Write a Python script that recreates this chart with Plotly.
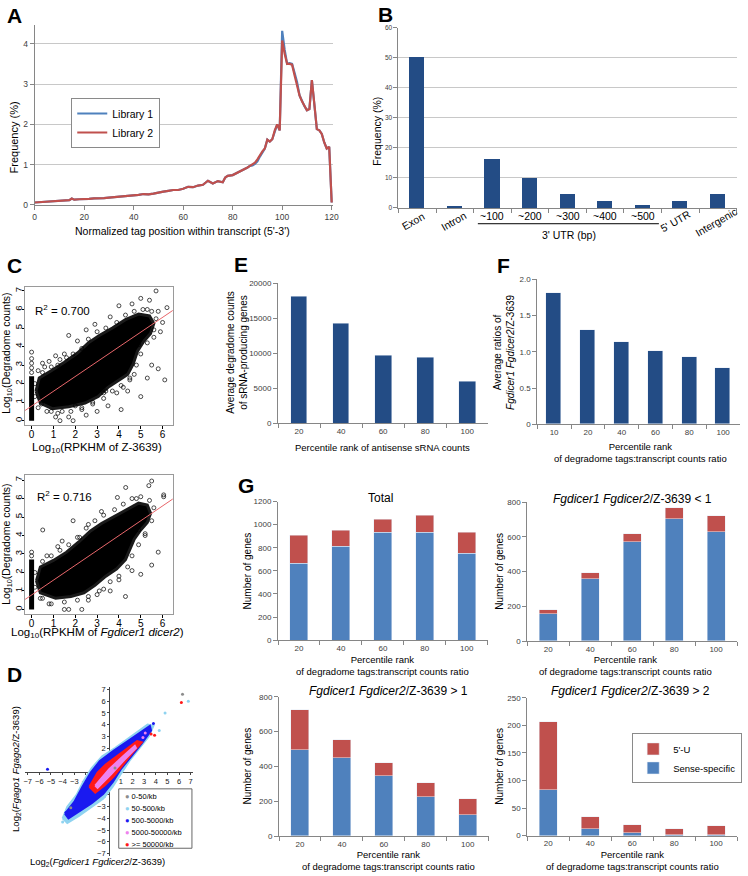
import plotly.graph_objects as go

W, H = 748, 876
FONT = "Arial, Liberation Sans, sans-serif"

# ---------------- data ----------------
# A: tag position profile
a_pos = [0, 2, 4, 6, 8, 10, 12, 14, 15, 16, 18, 20, 22, 24, 26, 28, 30, 32, 34, 36, 38, 40,
         42, 44, 46, 48, 50, 52, 54, 56, 58, 60, 62, 64, 66, 68, 70, 72, 74, 76, 77, 78, 80, 82, 84,
         85, 86, 87, 88, 89, 90, 91, 92, 93, 94, 95, 96, 97, 98, 99, 100, 101, 102, 103, 104,
         105, 106, 107, 108, 109, 110, 111, 112, 113, 114, 115, 116, 117, 118, 119, 120]
a_lib2 = [0.06, 0.07, 0.08, 0.09, 0.10, 0.11, 0.12, 0.12, 0.16, 0.13, 0.14, 0.14, 0.15, 0.16, 0.16,
          0.17, 0.18, 0.19, 0.21, 0.22, 0.22, 0.23, 0.25, 0.27, 0.26, 0.28, 0.31, 0.33, 0.35, 0.37,
          0.37, 0.40, 0.45, 0.44, 0.48, 0.50, 0.60, 0.53, 0.59, 0.56, 0.68, 0.72, 0.74, 0.80, 0.86,
          0.88, 0.93, 0.97, 1.00, 1.05, 1.13, 1.25, 1.33, 1.40, 1.62, 1.57, 1.63, 1.85, 2.00, 1.85,
          4.08, 3.75, 3.50, 3.50, 3.48, 3.22, 3.00, 2.72, 2.57, 2.45, 2.35, 2.38, 3.10, 2.50, 1.88,
          1.85, 1.76, 1.55, 1.40, 1.44, 0.06]
a_lib1 = [0.06, 0.07, 0.08, 0.09, 0.10, 0.11, 0.12, 0.12, 0.16, 0.13, 0.14, 0.14, 0.15, 0.16, 0.16,
          0.17, 0.18, 0.19, 0.21, 0.22, 0.22, 0.23, 0.25, 0.27, 0.26, 0.28, 0.31, 0.33, 0.35, 0.37,
          0.37, 0.40, 0.45, 0.44, 0.48, 0.50, 0.60, 0.53, 0.59, 0.56, 0.68, 0.72, 0.74, 0.80, 0.86,
          0.88, 0.93, 0.97, 0.98, 1.02, 1.08, 1.20, 1.30, 1.40, 1.62, 1.57, 1.63, 1.85, 2.00, 1.85,
          4.32, 3.85, 3.50, 3.52, 3.50, 3.28, 3.05, 2.72, 2.57, 2.45, 2.35, 2.38, 3.10, 2.50, 1.88,
          1.85, 1.76, 1.55, 1.40, 1.44, 0.06]

# B: genomic location of tags
b_cats = ["Exon", "Intron", "~100", "~200", "~300", "~400", "~500", "5' UTR", "Intergenic"]
b_vals = [50.5, 0.8, 16.4, 10.0, 4.7, 2.3, 1.2, 2.4, 4.8]

# C: degradome counts vs RPKHM (dense core outline, scattered points, zero column, fit line)
c1_core_x = [0.20, 0.35, 0.90, 1.50, 2.10, 2.60, 3.10, 3.70, 4.30, 4.90, 5.40, 5.60,
             5.45, 5.15, 4.85, 4.65, 4.40, 3.95, 3.50, 3.05, 2.45, 1.70, 0.95, 0.40]
c1_core_y = [1.60, 2.30, 2.70, 3.15, 3.65, 4.20, 4.60, 5.00, 5.45, 5.75, 5.65, 5.25,
             4.70, 4.30, 3.75, 3.05, 2.50, 2.15, 1.80, 1.30, 0.95, 0.75, 0.65, 0.95]
c1_out_x = [0.45, 0.9, 1.1, 1.3, 1.4, 1.7, 1.9, 2.3, 2.5, 2.8, 3.0, 3.3, 3.5, 3.9, 4.1, 4.2, 4.4,
            4.7, 5.0, 5.3, 5.5, 5.8, 6.1, 5.6, 5.9, 6.0, 5.8, 6.2, 5.4, 5.0, 5.3, 5.7, 4.6, 4.0,
            3.6, 2.9, 2.5, 2.1, 1.7, 1.5, 1.1, 0.8, 0.5, 0.3, 0.6, 1.3, 3.4, 4.5, 4.9, 2.0,
            0.5, 0.9, 1.2, 1.6, 1.9, 2.3, 2.6, 3.0, 3.4, 3.9, 4.3, 4.7, 5.1, 5.5, 5.7,
            5.6, 5.3, 5.0, 4.8, 4.5, 4.1, 3.7, 3.3, 2.8, 2.3, 1.8, 1.2, 0.7, 0.3, 0.15, 0.15]
c1_out_y = [0.9, 0.5, 0.2, 0.0, 0.5, 0.2, 0.0, 0.6, 0.3, 0.9, 0.5, 1.2, 0.8, 1.5, 0.6, 1.8, 1.6,
            2.5, 1.3, 2.3, 3.0, 2.8, 2.2, 4.5, 4.8, 5.3, 5.9, 6.1, 6.5, 6.6, 6.0, 7.0, 6.3, 6.2,
            5.6, 5.2, 4.9, 4.3, 4.6, 3.6, 3.5, 3.2, 3.1, 2.7, 2.9, 3.3, 1.6, 2.2, 4.1, 0.8,
            2.6, 2.9, 3.0, 3.4, 3.6, 3.9, 4.4, 4.8, 5.0, 5.3, 5.7, 5.9, 6.0, 5.9, 5.5,
            4.9, 4.2, 3.6, 3.0, 2.3, 1.9, 1.6, 1.5, 1.0, 0.7, 0.5, 0.4, 0.5, 0.7, 1.3, 2.0]
c1_zero_top = [0.0, 2.4]
c1_zero_sparse = [2.6, 2.85, 3.1, 3.35, 3.7]
c1_fit_x = [-0.3, 6.47]
c1_fit_y = [0.55, 5.95]

c2_core_x = [0.22, 0.40, 1.00, 1.60, 2.20, 2.70, 3.20, 3.80, 4.40, 4.90, 5.30, 5.45,
             5.30, 5.00, 4.70, 4.50, 4.30, 3.90, 3.40, 2.90, 2.40, 1.80, 1.10, 0.40]
c2_core_y = [1.55, 2.30, 2.65, 3.10, 3.70, 4.25, 4.65, 5.05, 5.45, 5.75, 5.65, 5.20,
             4.70, 4.30, 3.80, 3.20, 2.70, 2.20, 1.80, 1.30, 0.90, 0.70, 0.60, 0.90]
c2_out_x = [0.5, 0.8, 1.0, 1.5, 1.7, 2.3, 2.6, 3.0, 3.3, 3.6, 4.0, 4.3, 4.6, 5.0, 5.5, 5.8, 6.05,
            6.05, 5.5, 5.37, 4.31, 3.93, 1.9, 0.51, 1.2, 2.6, 4.9, 5.2, 4.8, 3.2, 2.2, 1.4, 0.7,
            0.5, 0.9, 1.3, 1.7, 2.1, 2.5, 2.9, 3.3, 3.8, 4.2, 4.6, 5.0, 5.4, 5.6,
            5.5, 5.2, 4.9, 4.6, 4.4, 4.0, 3.6, 3.1, 2.6, 2.1, 1.5, 0.9, 0.4, 0.15, 0.15]
c2_out_y = [0.6, 0.3, 0.9, 0.0, 0.0, 0.0, 0.5, 0.8, 1.1, 1.0, 1.6, 0.7, 2.1, 1.9, 2.4, 3.1, 6.2,
            6.1, 6.95, 6.7, 6.6, 6.06, 4.8, 4.3, 3.4, 4.6, 4.3, 4.0, 6.0, 5.3, 3.9, 3.7, 2.9,
            2.6, 2.9, 3.2, 3.5, 3.9, 4.4, 4.8, 5.1, 5.4, 5.7, 6.0, 6.1, 5.9, 5.5,
            4.8, 4.1, 3.5, 2.9, 2.3, 1.8, 1.5, 1.0, 0.7, 0.5, 0.4, 0.3, 0.6, 1.2, 2.0]
c2_zero_top = [0.0, 2.7]
c2_zero_sparse = [2.9, 3.1]
c2_fit_x = [-0.3, 6.47]
c2_fit_y = [0.54, 5.98]

# D: log2 ratio scatter, density classes
d_classes = ["0-50/kb", "50-500/kb", "500-5000/kb", "5000-50000/kb", "&gt;= 50000/kb"]
d_lb_x = [-4.0, -3.6, -2.8, -2.2, -1.5, -0.6, 0.5, 1.5, 2.5, 3.3, 3.8, 3.4, 2.6, 1.8, 1.0, 0.3, -0.5, -1.5, -2.6, -3.6]
d_lb_y = [-4.0, -3.0, -2.0, -0.8, 0.3, 1.3, 2.0, 2.7, 3.4, 4.0, 3.9, 3.0, 2.0, 1.0, -0.2, -1.3, -2.3, -3.0, -3.8, -4.4]
d_b_x = [-3.8, -3.0, -2.3, -1.6, -0.8, 0.4, 1.6, 2.6, 3.5, 3.6, 2.8, 1.9, 1.0, 0.3, -0.5, -1.5, -2.6, -3.5]
d_b_y = [-3.6, -2.6, -1.3, -0.1, 0.9, 1.8, 2.6, 3.3, 3.9, 3.5, 2.4, 1.3, 0.2, -0.9, -1.9, -2.7, -3.4, -4.0]
d_r_x = [-1.7, -1.0, -0.3, 0.6, 1.6, 2.4, 2.8, 2.0, 1.2, 0.4, -0.4, -1.2]
d_r_y = [-1.3, -0.1, 0.6, 1.3, 2.0, 2.6, 2.5, 1.6, 0.6, -0.4, -1.2, -1.8]
d_v_x = [-1.2, 0.0, 1.2, 2.2, 2.3, 1.3, 0.2, -1.0]
d_v_y = [-1.2, 0.2, 1.3, 2.2, 2.0, 1.0, -0.2, -1.4]
d_pts_x = [[6.3, -3.3, 0.5], [6.8, 4.8, -4.0, 4.3], [-5.3, 3.8, -3.7], [2.9, 3.1], [6.2, 3.9, 3.6]]
d_pts_y = [[6.6, -3.1, 0.3], [6.0, 5.0, -4.3, 3.5], [0.2, 4.1, -3.5], [2.9, 3.3], [5.9, 3.1, 3.2]]

# E / F
e_cats = ["20", "40", "60", "80", "100"]
e_vals = [18200, 14300, 9750, 9400, 6000]
f_cats = ["10", "20", "40", "60", "80", "100"]
f_vals = [1.81, 1.30, 1.13, 1.01, 0.93, 0.77]
f_ticks = [0, 0.5, 1.0, 1.5, 2.0]
f_ticktext = ["0", "0.5", "1.0", "1.5", "2.0"]

# G: stacked gene counts (sense-specific + 5'-U)
g_cats = ["20", "40", "60", "80", "100"]
g_total_sense = [660, 809, 929, 932, 752]
g_total_u = [249, 142, 114, 148, 180]
g_lt1_sense = [158, 354, 570, 705, 627]
g_lt1_u = [21, 37, 44, 63, 93]
g_gt1_sense = [497, 447, 349, 227, 123]
g_gt1_u = [228, 107, 72, 80, 91]
g_gt2_sense = [83, 12, 6, 1, 1]
g_gt2_u = [124, 22, 13, 11, 16]

NAVY = "#234C85"
BLUE = "#4F81BD"
RED = "#C0504D"
D_COLORS = ["#8C8C8C", "#8FD3F0", "#1A1AF0", "#EE82EE", "#FF1A1A"]


def dom_x(l, r):
    return [l / W, r / W]


def dom_y(t, b):
    return [1 - b / H, 1 - t / H]


def note(text, x, y, size=10, angle=0, bold=False, color="black", xref="paper", xanchor="center"):
    if bold:
        text = "<b>" + text + "</b>"
    return dict(text=text, x=x if xref != "paper" else x / W, y=1 - y / H, xref=xref, yref="paper",
                showarrow=False, textangle=angle, xanchor=xanchor, yanchor="middle",
                font=dict(family=FONT, size=size, color=color))


fig = go.Figure()

# ---- A ----
fig.add_trace(go.Scatter(x=a_pos, y=a_lib1, mode="lines", name="Library 1", xaxis="x", yaxis="y",
                         line=dict(color=BLUE, width=2.2), legend="legend"))
fig.add_trace(go.Scatter(x=a_pos, y=a_lib2, mode="lines", name="Library 2", xaxis="x", yaxis="y",
                         line=dict(color=RED, width=2.2), legend="legend"))

# ---- B ----
fig.add_trace(go.Bar(x=list(range(len(b_cats))), y=b_vals, xaxis="x2", yaxis="y2", width=0.4,
                     marker=dict(color=NAVY, line=dict(width=0)), showlegend=False))

# ---- C ----
for ax, cx, cy, ox, oy, zt, zs, fx, fy in [
        ("3", c1_core_x, c1_core_y, c1_out_x, c1_out_y, c1_zero_top, c1_zero_sparse, c1_fit_x, c1_fit_y),
        ("4", c2_core_x, c2_core_y, c2_out_x, c2_out_y, c2_zero_top, c2_zero_sparse, c2_fit_x, c2_fit_y)]:
    fig.add_trace(go.Scatter(x=cx + cx[:1], y=cy + cy[:1], mode="lines", fill="toself",
                             fillcolor="black", line=dict(color="#1A1A1A", width=3),
                             xaxis="x" + ax, yaxis="y" + ax, showlegend=False))
    fig.add_trace(go.Scatter(x=ox, y=oy, mode="markers", xaxis="x" + ax, yaxis="y" + ax,
                             marker=dict(symbol="circle-open", size=4, color="black", line=dict(width=0.7)),
                             showlegend=False))
    fig.add_trace(go.Scatter(x=[0, 0], y=zt, mode="lines", xaxis="x" + ax, yaxis="y" + ax,
                             line=dict(color="black", width=5), showlegend=False))
    fig.add_trace(go.Scatter(x=[0] * len(zs), y=zs, mode="markers", xaxis="x" + ax, yaxis="y" + ax,
                             marker=dict(symbol="circle-open", size=4, color="black", line=dict(width=0.7)),
                             showlegend=False))
    fig.add_trace(go.Scatter(x=fx, y=fy, mode="lines", xaxis="x" + ax, yaxis="y" + ax,
                             line=dict(color="#E8666A", width=1), showlegend=False))

# ---- D ----
for px_, py_, col in [(d_lb_x, d_lb_y, D_COLORS[1]), (d_b_x, d_b_y, D_COLORS[2]),
                      (d_r_x, d_r_y, D_COLORS[4]), (d_v_x, d_v_y, D_COLORS[3])]:
    fig.add_trace(go.Scatter(x=px_ + px_[:1], y=py_ + py_[:1], mode="lines", fill="toself",
                             fillcolor=col, line=dict(color=col, width=2), xaxis="x5", yaxis="y5",
                             showlegend=False))
for col, xs, ys in zip(D_COLORS, d_pts_x, d_pts_y):
    fig.add_trace(go.Scatter(x=xs, y=ys, mode="markers", xaxis="x5", yaxis="y5",
                             marker=dict(color=col, size=3), showlegend=False))

# ---- E / F ----
fig.add_trace(go.Bar(x=e_cats, y=e_vals, xaxis="x6", yaxis="y6", width=0.4,
                     marker=dict(color=NAVY), showlegend=False))
fig.add_trace(go.Bar(x=f_cats, y=f_vals, xaxis="x7", yaxis="y7", width=0.44,
                     marker=dict(color=NAVY), showlegend=False))

# ---- G ----
for ax, s, u, leg in [("8", g_total_sense, g_total_u, False), ("9", g_lt1_sense, g_lt1_u, False),
                      ("10", g_gt1_sense, g_gt1_u, False), ("11", g_gt2_sense, g_gt2_u, True)]:
    fig.add_trace(go.Bar(x=g_cats, y=s, xaxis="x" + ax, yaxis="y" + ax, width=0.42, name="Sense-specific",
                         marker=dict(color=BLUE), showlegend=leg, legend="legend3"))
    fig.add_trace(go.Bar(x=g_cats, y=u, xaxis="x" + ax, yaxis="y" + ax, width=0.42, name="5'-U",
                         marker=dict(color=RED), showlegend=leg, legend="legend3"))

# ---------------- axes ----------------
AXC = "#868686"
TKC = "#404040"


def excel_x(dom, anchor, size=8, cat=True):
    d = dict(domain=dom, anchor=anchor, showline=True, linecolor=AXC, linewidth=1, ticks="outside",
             ticklen=4, tickcolor=AXC, showgrid=False, zeroline=False,
             tickfont=dict(family=FONT, size=size, color=TKC))
    if cat:
        d.update(type="category", tickson="boundaries")
    return d


def excel_y(dom, anchor, rng, dtick, size=8, grid=False, fmt="d"):
    return dict(domain=dom, anchor=anchor, range=rng, dtick=dtick, showline=True, linecolor=AXC,
                linewidth=1, ticks="outside", ticklen=4, tickcolor=AXC, showgrid=grid,
                gridcolor="#C8C8C8", zeroline=False, tickformat=fmt,
                tickfont=dict(family=FONT, size=size, color=TKC))


def r_x(dom, anchor, rng):
    return dict(domain=dom, anchor=anchor, range=rng, tickvals=[0, 1, 2, 3, 4, 5, 6], showline=True,
                mirror=True, linecolor="#9A9A9A", ticks="outside", ticklen=3, tickcolor="black",
                ticklabelstandoff=-3, showgrid=False, zeroline=False,
                tickfont=dict(family=FONT, size=10, color="black"))


def r_y(dom, anchor, rng):
    return dict(domain=dom, anchor=anchor, range=rng, tickvals=[0, 1, 2, 3, 4, 5, 6, 7], showline=True,
                mirror=True, linecolor="#9A9A9A", ticks="outside", ticklen=2, tickcolor="black",
                tickangle=-90, ticklabelstandoff=-4, showgrid=False, zeroline=False,
                tickfont=dict(family=FONT, size=9.5, color="black"))


axes = {}
axes["xaxis"] = excel_x(dom_x(33, 335), "y", size=8.5, cat=False)
axes["xaxis"].update(range=[0, 120.7], tickvals=[0, 20, 40, 60, 80, 100, 120])
axes["yaxis"] = excel_y(dom_y(21, 203), "x", [0, 4.47], 1, size=8.5, grid=True)
axes["yaxis"]["tickvals"] = [0, 1, 2, 3, 4]

axes["xaxis2"] = excel_x(dom_x(400.7, 742.7), "y2", cat=False)
axes["xaxis2"].update(range=[-0.5, 8.5], tickvals=[i - 0.5 for i in range(10)], showticklabels=False)
axes["yaxis2"] = excel_y(dom_y(24, 206), "x2", [0, 60], 10, size=6.5, grid=True)

axes["xaxis3"] = r_x(dom_x(23.3, 172.7), "y3", [-0.3, 6.47])
axes["yaxis3"] = r_y(dom_y(286, 425.7), "x3", [-0.25, 7.21])
axes["xaxis4"] = r_x(dom_x(23.3, 172.7), "y4", [-0.3, 6.47])
axes["yaxis4"] = r_y(dom_y(476, 616), "x4", [-0.23, 7.27])

d_ticks = [-7, -6, -5, -4, -3, -2, -1, 1, 2, 3, 4, 5, 6, 7]
axes["xaxis5"] = dict(domain=dom_x(23.65, 193.05), anchor="free", position=1 - 775.5 / H,
                      range=[-7.2, 7.2], tickvals=d_ticks, showline=True, linecolor="#444",
                      ticks="outside", ticklen=2, tickcolor="#444", showgrid=False, zeroline=False,
                      layer="below traces", tickfont=dict(family=FONT, size=7.5, color="#222"))
axes["yaxis5"] = dict(domain=dom_y(690.3, 860.7), anchor="free", position=108.3 / W,
                      range=[-7.2, 7.2], tickvals=d_ticks, showline=True, linecolor="#444",
                      ticks="outside", ticklen=2, tickcolor="#444", showgrid=False, zeroline=False,
                      layer="below traces", tickfont=dict(family=FONT, size=7.5, color="#222"))

axes["xaxis6"] = excel_x(dom_x(279, 491.5), "y6")
axes["yaxis6"] = excel_y(dom_y(282.3, 423.7), "x6", [0, 20000], 5000)
axes["xaxis7"] = excel_x(dom_x(541, 746), "y7")
axes["yaxis7"] = excel_y(dom_y(278, 424.7), "x7", [0, 2], 0.5, fmt=None)
axes["yaxis7"].update(tickvals=f_ticks, ticktext=f_ticktext)

axes["xaxis8"] = excel_x(dom_x(279, 491), "y8")
axes["yaxis8"] = excel_y(dom_y(502.7, 642.7), "x8", [0, 1200], 200)
axes["xaxis9"] = excel_x(dom_x(531, 743), "y9")
axes["yaxis9"] = excel_y(dom_y(503.3, 643.7), "x9", [0, 800], 200)
axes["xaxis10"] = excel_x(dom_x(280, 492), "y10")
axes["yaxis10"] = excel_y(dom_y(700, 840.7), "x10", [0, 800], 200)
axes["xaxis11"] = excel_x(dom_x(531, 743), "y11")
axes["yaxis11"] = excel_y(dom_y(701, 840.3), "x11", [0, 250], 50)

# ---------------- text ----------------
ann = []
for t, x, y in [("A", 12.5, 12), ("B", 388, 11), ("C", 13, 264), ("D", 13, 677),
                ("E", 242, 263.5), ("F", 507, 264), ("G", 247, 487)]:
    ann.append(note(t, x, y, size=21, bold=True))

ann.append(note("Frequency (%)", 12, 135, size=11, angle=-90))
ann.append(note("Normalized tag position within transcript (5'-3')", 182, 229, size=10.5))

ann.append(note("Frequency (%)", 379, 128, size=10.5, angle=-90))
for i, c in enumerate(b_cats):
    if c.startswith("~"):
        ann.append(note(c, i, 214, size=10.5, xref="x2"))
    else:
        shift = {"Exon": -4, "Intron": -1, "5' UTR": -5, "Intergenic": -2}[c]
        a = note(c, i, 219 if c != "Intergenic" else 220, size=10.5, angle=-30, xref="x2")
        a["xshift"] = shift
        ann.append(a)
ann.append(note("3' UTR (bp)", 573, 233, size=10.5))

ann.append(note("R<sup>2</sup> = 0.700", 61, 309, size=11.5))
ann.append(note("R<sup>2</sup> = 0.716", 63, 497, size=11.5))
ann.append(note("Log<sub>10</sub>(Degradome counts)", 5.5, 353, size=10.5, angle=-90))
ann.append(note("Log<sub>10</sub>(Degradome counts)", 5.5, 546, size=10.5, angle=-90))
ann.append(note("Log<sub>10</sub>(RPKHM of Z-3639)", 96, 449, size=11.5))
ann.append(note("Log<sub>10</sub>(RPKHM of <i>Fgdicer1 dicer2</i>)", 97, 636, size=11.5))

ann.append(note("Log<sub>2</sub>(<i>Fgdicer1 Fgdicer2</i>/Z-3639)", 97, 867, size=9.5))
ann.append(note("Log<sub>2</sub>(<i>Fgago1 Fgago2</i>/Z-3639)", 14, 773, size=9.5, angle=-90))

# D legend (compact, drawn as text rows inside a box)
for k, (name, col) in enumerate(zip(d_classes, D_COLORS)):
    ann.append(note('<span style="color:%s">\u25CF</span> %s' % (col, name), 122, 801 + 12 * k,
                    size=7.5, xanchor="left"))

ann.append(note("Average degradome counts<br>of sRNA-producing genes", 238, 352, size=10, angle=-90))
ann.append(note("Percentile rank of antisense sRNA counts", 385, 448, size=9.5))
ann.append(note("Average ratios of<br><i>Fgdicer1 Fgdicer2</i>/Z-3639", 508, 352, size=10, angle=-90))
ann.append(note("Percentile rank<br>of degradome tags:transcript counts ratio", 645, 453, size=9.5))

ann.append(note("Total", 383, 499, size=12))
ann.append(note("<i>Fgdicer1 Fgdicer2</i>/Z-3639 < 1", 637, 500, size=12))
ann.append(note("<i>Fgdicer1 Fgdicer2</i>/Z-3639 > 1", 391, 694, size=12))
ann.append(note("<i>Fgdicer1 Fgdicer2</i>/Z-3639 > 2", 635, 694, size=12))
for x, y in [(248, 573), (502, 573), (248, 770), (502, 770)]:
    ann.append(note("Number of genes", x, y, size=10, angle=-90))
for x, y in [(385, 668), (630, 668), (391, 865), (637, 865)]:
    ann.append(note("Percentile rank<br>of degradome tags:transcript counts ratio", x, y, size=9.5))

shapes = [dict(type="line", xref="paper", yref="paper", x0=481 / W, x1=664 / W,
               y0=1 - 222 / H, y1=1 - 222 / H, line=dict(color="black", width=1)),
          dict(type="rect", xref="paper", yref="paper", x0=118 / W, x1=192 / W,
               y0=1 - 853 / H, y1=1 - 793 / H, fillcolor="white", layer="above",
               line=dict(color="#666", width=1))]

fig.update_layout(
    width=W, height=H, margin=dict(l=0, r=0, t=0, b=0), autosize=False,
    paper_bgcolor="white", plot_bgcolor="white", barmode="stack", bargap=0,
    font=dict(family=FONT, color="black"),
    annotations=ann, shapes=shapes,
    legend=dict(x=70 / W, y=1 - 95 / H, xanchor="left", yanchor="top", bgcolor="white",
                bordercolor="#8A8A8A", borderwidth=1, font=dict(family=FONT, size=10.5),
                traceorder="normal", tracegroupgap=0, itemwidth=30),
    legend3=dict(x=637 / W, y=1 - 737 / H, xanchor="left", yanchor="top", bgcolor="white",
                 bordercolor="#8A8A8A", borderwidth=1, font=dict(family=FONT, size=9.5),
                 traceorder="reversed", itemwidth=30),
    **axes,
)

fig.write_html("out.html", config={"displayModeBar": False, "responsive": False},
               post_script="document.documentElement.style.overflow='hidden';"
                           "document.body.style.overflow='hidden';document.body.style.margin='0';")
